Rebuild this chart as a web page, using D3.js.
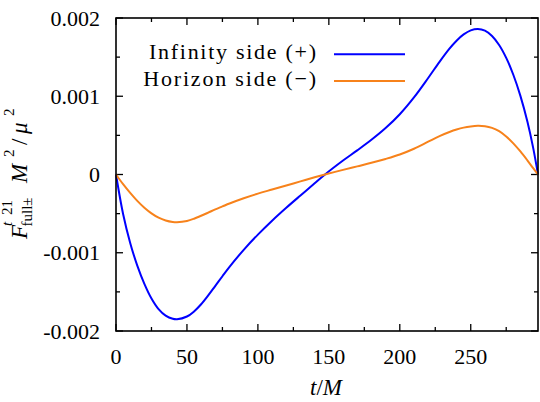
<!DOCTYPE html>
<html>
<head>
<meta charset="utf-8">
<script src="https://cdn.jsdelivr.net/npm/d3@7"></script>
<style>
  html, body { margin: 0; padding: 0; background: #fff; }
  svg { display: block; }
</style>
</head>
<body>
<svg id="chart" width="540" height="402"></svg>
<script>
// time samples t/M over one radial period
const tValues = [0, 5, 10, 15, 20, 25, 30, 35, 40, 43, 50, 55, 60, 65, 70, 75, 80, 90, 100, 110, 120, 130, 140,
  147.3, 160, 170, 180, 190, 200, 210, 220, 228, 235, 240, 245, 250, 255, 260, 265, 270, 275, 280, 285, 290, 294, 297.4];

// flux at infinity (+), units of 1e-5
const infinitySide = [0, -50.4, -87.5, -116.4, -139.7, -158.4, -172, -180.4, -184.4, -185,
  -181.5, -175, -165.8, -154.5, -142.3, -130, -118, -96.3, -76.8, -59, -42.5, -26.8, -11.3,
  0, 17.8, 30.8, 44.3, 59.3, 77, 98.5, 123.3, 144, 160.8, 171, 179, 184.2, 186,
  183.8, 177, 165.5, 149, 127.5, 100.5, 67, 34, 0];

// flux through the horizon (−), units of 1e-5
const horizonSide = [0, -12.4, -23.5, -33.7, -42.5, -49.7, -55.2, -58.8, -60.7, -61,
  -59.4, -56.5, -52.7, -48.7, -44.6, -40.8, -37, -30.3, -24.4, -19.2, -14, -8.8, -3.6,
  0, 5.9, 10.4, 14.9, 19.9, 25.6, 32.95, 41.95, 49.1, 54.3, 57.45, 59.9, 61.45, 62.2,
  61.7, 59.6, 55.4, 48.6, 39.85, 29.45, 17.85, 8.05, 0];

const valueScale = 1e-5;
const seriesNames = ["Infinity side (+)", "Horizon side (\u2212)"];
const xTicks = [0, 50, 100, 150, 200, 250];
const xMinorTicks = [25, 75, 125, 175, 225, 275];
const yTicks = [-0.002, -0.001, 0, 0.001, 0.002];
const yTickLabels = ["-0.002", "-0.001", "0", "0.001", "0.002"];
const yMinorTicks = [-0.0015, -0.0005, 0.0005, 0.0015];

// pick the first installed serif face
function fontInstalled(name) {
  const ctx = document.createElement("canvas").getContext("2d");
  const sample = "Infinity side 0.0012 Horizon";
  return ["monospace", "sans-serif"].some(g => {
    ctx.font = `22px ${g}`;
    const base = ctx.measureText(sample).width;
    ctx.font = `22px "${name}", ${g}`;
    return Math.abs(ctx.measureText(sample).width - base) > 0.1;
  });
}
const serifCandidates = ["Liberation Serif", "DejaVu Serif", "Noto Serif", "Tinos", "Times New Roman",
  "Times", "FreeSerif", "Nimbus Roman", "Nimbus Roman No9 L", "Latin Modern Roman", "CMU Serif", "Georgia"];
const serifFace = serifCandidates.find(fontInstalled);
const fontFamily = serifFace ? `"${serifFace}", serif` : "serif";

const svg = d3.select("#chart").style("font-family", fontFamily);
const plotLeft = 116, plotRight = 538, plotTop = 18, plotBottom = 331;
const colors = ["#0000ff", "#f7821b"];

const x = d3.scaleLinear().domain([0, 297.4]).range([plotLeft, plotRight]);
const y = d3.scaleLinear().domain([-0.002, 0.002]).range([plotBottom, plotTop]);

// inward ticks on all four sides
function tickSet(values, len) {
  return values.map(v => ({ v, len }));
}
const xt = tickSet(xTicks, 7).concat(tickSet(xMinorTicks, 4));
const yt = tickSet(yTicks, 7).concat(tickSet(yMinorTicks, 4));
const ticks = svg.append("g").attr("stroke", "#000").attr("stroke-width", 1.3);
xt.forEach(d => {
  ticks.append("line").attr("x1", x(d.v)).attr("x2", x(d.v)).attr("y1", plotBottom).attr("y2", plotBottom - d.len);
  ticks.append("line").attr("x1", x(d.v)).attr("x2", x(d.v)).attr("y1", plotTop).attr("y2", plotTop + d.len);
});
yt.forEach(d => {
  ticks.append("line").attr("y1", y(d.v)).attr("y2", y(d.v)).attr("x1", plotLeft).attr("x2", plotLeft + d.len);
  ticks.append("line").attr("y1", y(d.v)).attr("y2", y(d.v)).attr("x1", plotRight).attr("x2", plotRight - d.len);
});

// tick labels
svg.append("g").selectAll("text").data(xTicks).join("text")
  .attr("x", d => x(d)).attr("y", 364).attr("text-anchor", "middle")
  .attr("font-size", 22).text(d => d);
svg.append("g").selectAll("text").data(yTicks).join("text")
  .attr("x", 100).attr("y", d => y(d) + 7.5).attr("text-anchor", "end")
  .attr("font-size", 22).text((d, i) => yTickLabels[i]);

// curves
const line = d3.line().x(d => x(d[0])).y(d => y(d[1] * valueScale)).curve(d3.curveCatmullRom.alpha(0.5));
[infinitySide, horizonSide].forEach((vals, i) => {
  svg.append("path")
    .datum(tValues.map((t, k) => [t, vals[k]]))
    .attr("fill", "none").attr("stroke", colors[i]).attr("stroke-width", 2)
    .attr("d", line);
});

// frame
svg.append("rect").attr("x", plotLeft).attr("y", plotTop)
  .attr("width", plotRight - plotLeft).attr("height", plotBottom - plotTop)
  .attr("fill", "none").attr("stroke", "#000").attr("stroke-width", 1.6);

// legend
const legendRows = [{ base: 59, line: 54.3, w: 167 }, { base: 86, line: 81, w: 172.7 }];
seriesNames.forEach((name, i) => {
  const r = legendRows[i];
  svg.append("text").attr("x", 316).attr("y", r.base).attr("text-anchor", "end")
    .attr("font-size", 22).attr("textLength", r.w).attr("lengthAdjust", "spacing").text(name);
  svg.append("line").attr("x1", 334).attr("x2", 405).attr("y1", r.line).attr("y2", r.line)
    .attr("stroke", colors[i]).attr("stroke-width", 2);
});

// x axis title: t/M
const xl = svg.append("text").attr("x", 326).attr("y", 395).attr("text-anchor", "middle").attr("font-size", 23);
xl.append("tspan").attr("font-style", "italic").text("t");
xl.append("tspan").text("/");
xl.append("tspan").attr("font-style", "italic").text("M");

// y axis title: F^{t 21}_{full±} M^2/μ^2
const yl = svg.append("g").attr("transform", "translate(26.7,239) rotate(-90)");
const part = (txt, lx, ly, size, italic) =>
  yl.append("text").attr("x", lx).attr("y", ly).attr("font-size", size)
    .attr("font-style", italic ? "italic" : "normal").text(txt);
part("F", 0, 0, 23, true);
part("t", 13, -14.5, 15, true);
part("21", 24, -14.5, 15, false);
part("full\u00b1", 12.5, 5, 15, false);
part("M", 56, 0, 23, true);
part("2", 82, -13, 15, false);
part("/", 94, 0, 23, false);
part("\u03bc", 105, 0, 23, true);
part("2", 123, -13, 15, false);
</script>
</body>
</html>
